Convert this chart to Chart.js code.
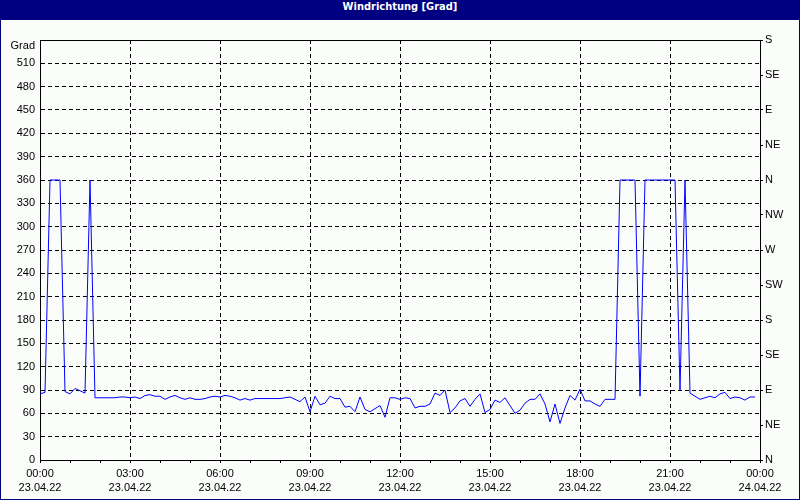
<!DOCTYPE html>
<html lang="de">
<head>
    <meta charset="UTF-8">
    <title>Windrichtung [Grad]</title>
    <script src="https://cdn.jsdelivr.net/npm/chart.js@4"></script>
    <style>
        html, body { margin: 0; padding: 0; background: #fff; }
        #frame {
            width: 800px; height: 500px; box-sizing: border-box;
            border: 1px solid #000080; border-top: none;
            background: #fafdfa;
        }
        #title {
            height: 20px; line-height: 20px; background: #000080; color: #fff;
            text-align: center; font: bold 11px "DejaVu Sans Condensed", "Liberation Sans", sans-serif;
        }
        #chart-box { position: relative; width: 798px; height: 479px; }
    </style>
</head>
<body>
<div id="frame">
    <div id="title">Windrichtung [Grad]</div>
    <div id="chart-box"><canvas id="windChart"></canvas></div>
</div>
<script>
    // 10-minute samples from 23.04.22 00:00 to 23:50
    const stepMinutes = 10;
    const windDir = [
        85, 87, 360, 360, 360, 88, 85, 92, 89, 86,
        360, 80, 80, 80, 80, 80, 81, 81, 80, 81,
        79, 83, 84, 82, 82, 78, 81, 83, 80, 78,
        80, 78, 78, 79, 81, 82, 81, 83, 82, 80,
        77, 79, 77, 79, 79, 79, 79, 79, 79, 80,
        81, 78, 75, 81, 62, 82, 71, 73, 82, 79,
        79, 68, 69, 62, 81, 65, 62, 66, 70, 55,
        80, 80, 78, 80, 79, 67, 69, 69, 72, 86,
        83, 90, 61, 67, 76, 79, 69, 78, 85, 61,
        65, 77, 74, 80, 70, 60, 64, 73, 78, 78,
        85, 72, 49, 72, 47, 67, 83, 77, 91, 76,
        76, 72, 69, 78, 78, 78, 360, 360, 360, 360,
        82, 360, 360, 360, 360, 360, 360, 360, 90, 360,
        86, 82, 78, 80, 82, 80, 85, 87, 79, 81,
        80, 77, 81, 81
    ];
    const compassLabels = ['N', 'NE', 'E', 'SE', 'S', 'SW', 'W', 'NW', 'N', 'NE', 'E', 'SE', 'S'];
    const dayLabels = { 0: '23.04.22', 1440: '24.04.22' };

    const points = windDir.map((v, i) => ({ x: i * stepMinutes, y: v }));

    function hhmm(min) {
        const h = Math.floor(min / 60) % 24;
        const m = min % 60;
        return String(h).padStart(2, '0') + ':' + String(m).padStart(2, '0');
    }

    Chart.defaults.font.family = '"Liberation Sans", Arial, sans-serif';
    Chart.defaults.font.size = 11;
    Chart.defaults.color = '#000';

    new Chart(document.getElementById('windChart'), {
        type: 'line',
        data: {
            datasets: [{
                data: points,
                borderColor: '#0000ff',
                borderWidth: 1,
                pointRadius: 0,
                tension: 0,
                fill: false
            }]
        },
        options: {
            responsive: true,
            maintainAspectRatio: false,
            animation: false,
            devicePixelRatio: 1,
            layout: { padding: { top: 20, left: 0, right: 0, bottom: 0 } },
            plugins: { legend: { display: false }, tooltip: { enabled: false } },
            scales: {
                x: {
                    type: 'linear',
                    min: 0, max: 1440,
                    afterFit: (s) => { s.height = 39; },
                    ticks: {
                        stepSize: 60, maxTicksLimit: 100, autoSkip: false, maxRotation: 0,
                        padding: 4,
                        font: { size: 11, lineHeight: 1.3 },
                        callback: (v) => {
                            if (v % 180 !== 0) return '';
                            const day = v === 1440 ? dayLabels[1440] : dayLabels[0];
                            return [hhmm(v), day];
                        }
                    },
                    grid: {
                        color: (c) => (c.tick && c.tick.value % 180 === 0) ? '#000' : 'rgba(0,0,0,0)',
                        tickColor: '#000',
                        tickLength: 3,
                        lineWidth: 1
                    },
                    border: { color: '#000', width: 1, dash: [4, 3] }
                },
                y: {
                    position: 'left',
                    min: 0, max: 540,
                    afterFit: (s) => { s.width = 39; },
                    ticks: {
                        stepSize: 30, autoSkip: false, padding: 5,
                        font: { size: 11, lineHeight: 1.0 },
                        callback: (v) => v === 540 ? ['', 'Grad'] : String(v)
                    },
                    grid: { color: '#000', drawTicks: false, lineWidth: 1 },
                    border: {
                        color: '#000', width: 1,
                        dash: (c) => (c.tick && c.tick.value === 540) ? [] : [4, 3]
                    }
                },
                yDir: {
                    position: 'right',
                    min: 0, max: 540,
                    afterFit: (s) => { s.width = 39; },
                    ticks: {
                        stepSize: 45, autoSkip: false, padding: 2,
                        callback: (v) => compassLabels[Math.round(v / 45)]
                    },
                    grid: { drawOnChartArea: false, tickColor: '#000', tickLength: 3 },
                    border: { color: '#000', width: 1 }
                }
            }
        }
    });
</script>
</body>
</html>
